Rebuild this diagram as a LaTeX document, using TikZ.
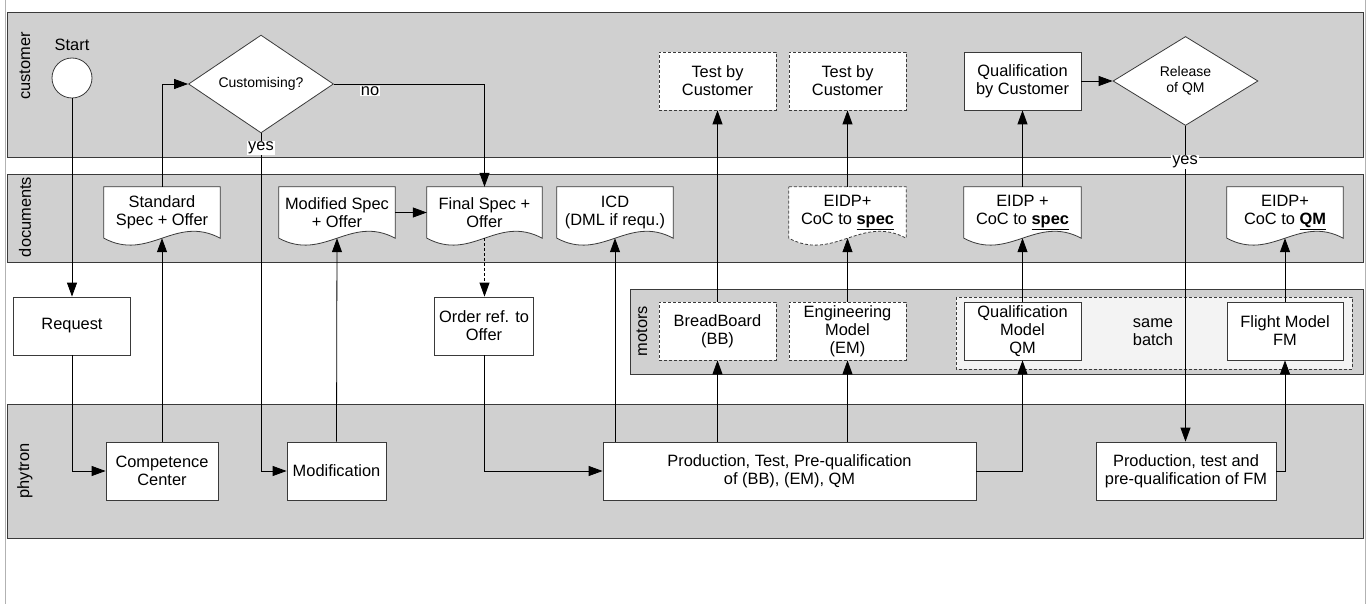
\documentclass[tikz,border=0pt]{standalone}
\usepackage{fontspec}
\setmainfont{Liberation Sans}
\usetikzlibrary{shapes.geometric,arrows.meta,calc}
\definecolor{lanegray}{HTML}{D0D0D0}
\definecolor{edgegray}{HTML}{3A3A3A}
\definecolor{batchgray}{HTML}{F3F3F3}
\pgfdeclarelayer{lanes}
\pgfdeclarelayer{docbg}
\pgfsetlayers{lanes,docbg,main}
\newcommand{\drawdocshape}[2][]{%
  \draw[docline,#1] (#2.north west) -- (#2.north east) -- (#2.south east)
    .. controls +(-45,-24) and +(45,24) .. (#2.south west) -- cycle;}
\begin{document}
\begin{tikzpicture}[x=1pt,y=-1pt,
  lane/.style={draw=edgegray,fill=lanegray,line width=0.8pt},
  box/.style={rectangle,draw=edgegray,fill=white,line width=0.8pt,inner sep=0pt,
    align=center,font=\fontsize{16.4}{18}\selectfont,minimum height=58pt},
  dbox/.style={box,dash pattern=on 3pt off 2pt},
  docn/.style={rectangle,inner sep=0pt,align=center,
    font=\fontsize{16.4}{18}\selectfont,minimum height=51pt},
  docline/.style={draw=edgegray,fill=white,line width=0.8pt},
  dia/.style={diamond,draw=edgegray,fill=white,line width=0.8pt,inner sep=0pt,
    align=center,font=\fontsize{14}{16}\selectfont},
  lanelbl/.style={rotate=90,font=\fontsize{16.4}{18}\selectfont},
  lbl/.style={fill=white,inner sep=1pt,font=\fontsize{16.4}{18}\selectfont},
  txt/.style={align=center,font=\fontsize{16.4}{18}\selectfont},
  conn/.style={draw=black,line width=0.8pt,-{Triangle[length=14pt,width=10pt]}},
  dconn/.style={conn,dash pattern=on 3pt off 2pt}
]
\useasboundingbox (0,0) rectangle (1368,604);

% ---------- lanes ----------
\begin{pgfonlayer}{lanes}
\fill[white] (0,0) rectangle (1368,604);
\draw[gray!60,line width=0.8pt] (5,0) -- (5,604);
\draw[gray!60,line width=0.8pt] (1365,0) -- (1365,604);
\draw[lane] (7,12) rectangle (1363,157);
\draw[lane] (7,174) rectangle (1363,262);
\draw[lane] (7,404) rectangle (1363,538);
\draw[lane] (630,289) rectangle (1363,374);
\draw[draw=edgegray,fill=batchgray,line width=0.8pt,dash pattern=on 3pt off 2pt]
  (956,297) rectangle (1352,369);
\end{pgfonlayer}

\node[lanelbl] (lcust) at (25,66) {customer};
\node[lanelbl] (ldocs) at (25,217) {documents};
\node[lanelbl] (lphy) at (25,471) {phytron};
\node[lanelbl] (lmot) at (642,331) {motors};

% ---------- customer ----------
\node[circle,draw=edgegray,fill=white,line width=0.8pt,minimum size=40pt,inner sep=0pt]
  (start) at (72,78) {};
\node[txt] (startlbl) at (72,45) {Start};
\node[dia,minimum width=145pt,minimum height=90pt] (cust) at (261,84) {Customising?};
\node[dbox,minimum width=117pt] (test1) at (717.5,81) {Test by\\Customer};
\node[dbox,minimum width=117pt] (test2) at (847.5,81) {Test by\\Customer};
\node[box,minimum width=117pt] (qcust) at (1022.5,81) {Qualification\\by Customer};
\node[dia,minimum width=145pt,minimum height=89pt] (rel) at (1185.5,81) {Release\\of QM};

% ---------- documents ----------
\node[docn,minimum width=116pt] (std) at (162,212.5) {Standard\\Spec + Offer};
\node[docn,minimum width=116pt] (moddoc) at (337,212.5) {Modified Spec\\+ Offer};
\node[docn,minimum width=115pt] (final) at (484.5,212.5) {Final Spec +\\Offer};
\node[docn,minimum width=116pt] (icd) at (615,212.5) {ICD\\(DML if requ.)};
\node[docn,minimum width=117pt] (eidpa) at (847.5,212.5) {EIDP+\\CoC to \textbf{\underline{spec}}};
\node[docn,minimum width=117pt] (eidpb) at (1022.5,212.5) {EIDP +\\CoC to \textbf{\underline{spec}}};
\node[docn,minimum width=116pt] (eidpc) at (1285,212.5) {EIDP+\\CoC to \textbf{\underline{QM}}};
\begin{pgfonlayer}{docbg}
\drawdocshape{std}
\drawdocshape{moddoc}
\drawdocshape{final}
\drawdocshape{icd}
\drawdocshape[dash pattern=on 3pt off 2pt]{eidpa}
\drawdocshape{eidpb}
\drawdocshape{eidpc}
\end{pgfonlayer}

% ---------- middle ----------
\node[box,minimum width=117pt] (req) at (72,326) {Request};
\node[box,minimum width=99pt] (order) at (484,326) {Order ref. to\\Offer};
\node[dbox,minimum width=117pt] (bb) at (717.5,331) {BreadBoard\\(BB)};
\node[dbox,minimum width=117pt] (em) at (847.5,331) {Engineering\\Model\\(EM)};
\node[box,minimum width=117pt] (qm) at (1022.5,331) {Qualification\\Model\\QM};
\node[txt] (batch) at (1153,332) {same\\batch};
\node[box,minimum width=116pt] (fm) at (1285,331) {Flight Model\\FM};

% ---------- phytron ----------
\node[box,minimum width=112pt] (cc) at (162,471) {Competence\\Center};
\node[box,minimum width=99pt] (modif) at (336.5,471) {Modification};
\node[box,minimum width=373pt] (prod) at (789.5,471) {Production, Test, Pre-qualification\\of (BB), (EM), QM};
\node[box,minimum width=180pt] (prodfm) at (1186,471) {Production, test and\\pre-qualification of FM};

% ---------- connectors ----------
\draw[conn] (start.south) -- (start.south |- req.north);
\draw[conn] (req.south) |- (cc.west);
\draw[conn] (cc.north) -- (std.south);
\draw[conn] (std.north) |- (cust.west);
\draw[conn] (cust.east) -| (final.north);
\node[lbl] (nolbl) at (370,91) {no};
\draw[conn] (cust.south) |- (modif.west);
\node[lbl] (yeslbl) at (261,148) {yes};
\draw[conn] (modif.north) -- (moddoc.south);
\draw[conn] (moddoc.east) -- (final.west);
\draw[dconn] (final.south) -- (final.south |- order.north);
\draw[conn] (order.south) |- (prod.west);
\draw[conn] (icd.south |- prod.north) -- (icd.south);
\draw[conn] (bb.south |- prod.north) -- (bb.south);
\draw[conn] (bb.north) -- (test1.south);
\draw[conn] (em.south |- prod.north) -- (em.south);
\draw[conn] (em.north) -- (eidpa.south);
\draw[conn] (eidpa.north) -- (test2.south);
\draw[conn] (prod.east) -| (qm.south);
\draw[conn] (qm.north) -- (eidpb.south);
\draw[conn] (eidpb.north) -- (qcust.south);
\draw[conn] (qcust.east) -- (rel.west);
\draw[conn] (rel.south) -- (rel.south |- prodfm.north);
\node[lbl] (yeslbl2) at (1185,162) {yes};
\draw[conn] (prodfm.east) -| (fm.south);
\draw[conn] (fm.north) -- (eidpc.south);
\end{tikzpicture}
\end{document}
